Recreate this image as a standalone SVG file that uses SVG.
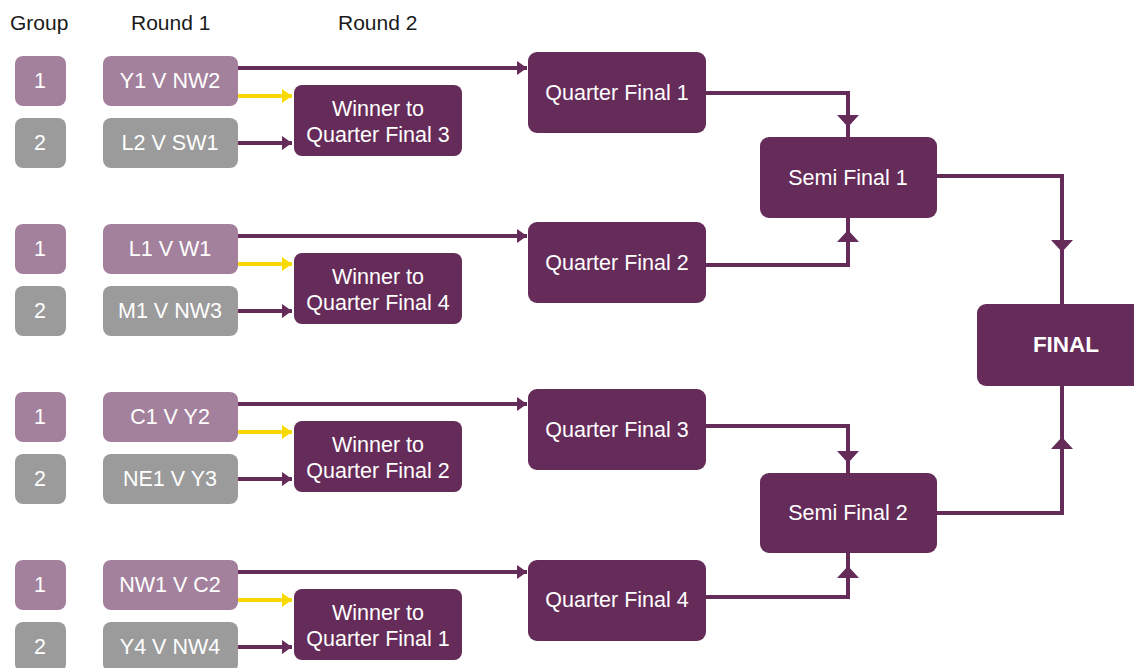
<svg xmlns="http://www.w3.org/2000/svg" width="1134" height="668" viewBox="0 0 1134 668">
<style>
text{font-family:"Liberation Sans",Arial,sans-serif;font-size:21.5px;fill:#fff;text-anchor:middle}
.hdr{fill:#1a1a1a;text-anchor:start;font-size:21px}
.g1{fill:#a3819c}
.g2{fill:#9b9b9b}
.dk{fill:#652b59}
.ln{stroke:#652b59;stroke-width:4;fill:none}
.yl{stroke:#f7d900;stroke-width:4;fill:none}
.ah{fill:#652b59}
.ahy{fill:#f7d900}
.b{font-weight:bold;font-size:22.5px}
</style>
<defs>
<marker id="mp" viewBox="0 0 10 14" refX="10" refY="7" markerWidth="10" markerHeight="14" markerUnits="userSpaceOnUse" orient="auto"><path d="M0,0L10,7L0,14z" class="ah"/></marker>
<marker id="my" viewBox="0 0 10 14" refX="10" refY="7" markerWidth="10" markerHeight="14" markerUnits="userSpaceOnUse" orient="auto"><path d="M0,0L10,7L0,14z" class="ahy"/></marker>
</defs>
<rect width="1134" height="668" fill="#fff"/>
<g id="headers">
<text class="hdr" x="10" y="30">Group</text>
<text class="hdr" x="131" y="30">Round 1</text>
<text class="hdr" x="338" y="30">Round 2</text>
</g>
<g id="connectors">
<path class="ln" d="M238,68H527" marker-end="url(#mp)"/>
<path class="yl" d="M238,96H292" marker-end="url(#my)"/>
<path class="ln" d="M238,143H292" marker-end="url(#mp)"/>
<path class="ln" d="M238,236H527" marker-end="url(#mp)"/>
<path class="yl" d="M238,264H292" marker-end="url(#my)"/>
<path class="ln" d="M238,311H292" marker-end="url(#mp)"/>
<path class="ln" d="M238,404H527" marker-end="url(#mp)"/>
<path class="yl" d="M238,432H292" marker-end="url(#my)"/>
<path class="ln" d="M238,479H292" marker-end="url(#mp)"/>
<path class="ln" d="M238,572H527" marker-end="url(#mp)"/>
<path class="yl" d="M238,600H292" marker-end="url(#my)"/>
<path class="ln" d="M238,647H292" marker-end="url(#mp)"/>
<path class="ln" d="M706,93H848V137"/>
<path class="ah" d="M837,115H859L848,127z"/>
<path class="ln" d="M706,265H848V218"/>
<path class="ah" d="M837,242H859L848,230z"/>
<path class="ln" d="M706,426H848V473"/>
<path class="ah" d="M837,451H859L848,463z"/>
<path class="ln" d="M706,597H848V553"/>
<path class="ah" d="M837,578H859L848,566z"/>
<path class="ln" d="M937,176H1062V304"/>
<path class="ah" d="M1051,240H1073L1062,252z"/>
<path class="ln" d="M937,513H1062V386"/>
<path class="ah" d="M1051,449H1073L1062,437z"/>
</g>
<g id="grp1a"><rect class="g1" x="15" y="56" width="51" height="50" rx="8"/><text x="40" y="88">1</text></g>
<g id="grp2a"><rect class="g2" x="15" y="118" width="51" height="50" rx="8"/><text x="40" y="150">2</text></g>
<g id="grp1b"><rect class="g1" x="15" y="224" width="51" height="50" rx="8"/><text x="40" y="256">1</text></g>
<g id="grp2b"><rect class="g2" x="15" y="286" width="51" height="50" rx="8"/><text x="40" y="318">2</text></g>
<g id="grp1c"><rect class="g1" x="15" y="392" width="51" height="50" rx="8"/><text x="40" y="424">1</text></g>
<g id="grp2c"><rect class="g2" x="15" y="454" width="51" height="50" rx="8"/><text x="40" y="486">2</text></g>
<g id="grp1d"><rect class="g1" x="15" y="560" width="51" height="50" rx="8"/><text x="40" y="592">1</text></g>
<g id="grp2d"><rect class="g2" x="15" y="622" width="51" height="50" rx="8"/><text x="40" y="654">2</text></g>
<g id="m1"><rect class="g1" x="103" y="56" width="135" height="50" rx="8"/><text x="170" y="88">Y1 V NW2</text></g>
<g id="m2"><rect class="g2" x="103" y="118" width="135" height="50" rx="8"/><text x="170" y="150">L2 V SW1</text></g>
<g id="m3"><rect class="g1" x="103" y="224" width="135" height="50" rx="8"/><text x="170" y="256">L1 V W1</text></g>
<g id="m4"><rect class="g2" x="103" y="286" width="135" height="50" rx="8"/><text x="170" y="318">M1 V NW3</text></g>
<g id="m5"><rect class="g1" x="103" y="392" width="135" height="50" rx="8"/><text x="170" y="424">C1 V Y2</text></g>
<g id="m6"><rect class="g2" x="103" y="454" width="135" height="50" rx="8"/><text x="170" y="486">NE1 V Y3</text></g>
<g id="m7"><rect class="g1" x="103" y="560" width="135" height="50" rx="8"/><text x="170" y="592">NW1 V C2</text></g>
<g id="m8"><rect class="g2" x="103" y="622" width="135" height="50" rx="8"/><text x="170" y="654">Y4 V NW4</text></g>
<g id="w1"><rect class="dk" x="294" y="85" width="168" height="71" rx="8"/><text x="378" y="116">Winner to</text><text x="378" y="142">Quarter Final 3</text></g>
<g id="w2"><rect class="dk" x="294" y="253" width="168" height="71" rx="8"/><text x="378" y="284">Winner to</text><text x="378" y="310">Quarter Final 4</text></g>
<g id="w3"><rect class="dk" x="294" y="421" width="168" height="71" rx="8"/><text x="378" y="452">Winner to</text><text x="378" y="478">Quarter Final 2</text></g>
<g id="w4"><rect class="dk" x="294" y="589" width="168" height="71" rx="8"/><text x="378" y="620">Winner to</text><text x="378" y="646">Quarter Final 1</text></g>
<g id="qf1"><rect class="dk" x="528" y="52" width="178" height="81" rx="9"/><text x="617" y="100">Quarter Final 1</text></g>
<g id="qf2"><rect class="dk" x="528" y="222" width="178" height="81" rx="9"/><text x="617" y="270">Quarter Final 2</text></g>
<g id="qf3"><rect class="dk" x="528" y="389" width="178" height="81" rx="9"/><text x="617" y="437">Quarter Final 3</text></g>
<g id="qf4"><rect class="dk" x="528" y="560" width="178" height="81" rx="9"/><text x="617" y="607">Quarter Final 4</text></g>
<g id="sf1"><rect class="dk" x="760" y="137" width="177" height="81" rx="9"/><text x="848" y="185">Semi Final 1</text></g>
<g id="sf2"><rect class="dk" x="760" y="473" width="177" height="80" rx="9"/><text x="848" y="520">Semi Final 2</text></g>
<g id="final"><rect class="dk" x="977" y="304" width="170" height="82" rx="9"/><text class="b" x="1066" y="352">FINAL</text></g>
</svg>
